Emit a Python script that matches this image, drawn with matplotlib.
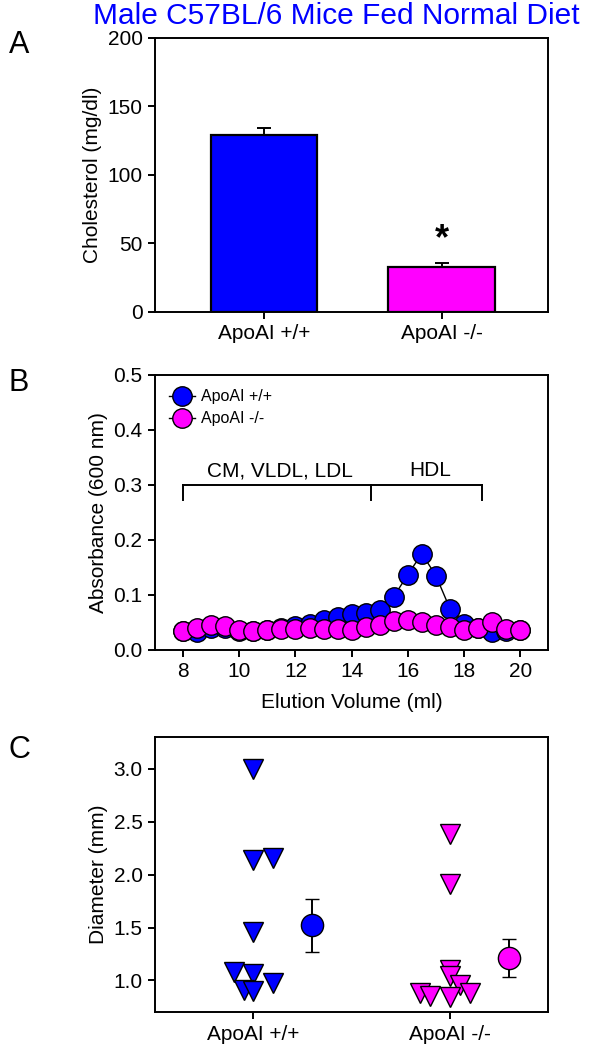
import numpy as np
import matplotlib
matplotlib.use("Agg")
import matplotlib.pyplot as plt

plt.rcParams["font.family"] = ["Liberation Sans", "DejaVu Sans"]

BLUE = "#0000FF"
MAGENTA = "#FF00FF"

# ---- A: plasma cholesterol ----
groups = ["ApoAI +/+", "ApoAI -/-"]
chol_mean = [129.3, 32.9]
chol_sem = [4.8, 3.0]

# ---- B: FPLC profile ----
elution = [8.0, 8.5, 9.0, 9.5, 10.0, 10.5, 11.0, 11.5, 12.0, 12.5, 13.0, 13.5, 14.0,
           14.5, 15.0, 15.5, 16.0, 16.5, 17.0, 17.5, 18.0, 18.5, 19.0, 19.5, 20.0]
abs_wt = [0.035, 0.032, 0.040, 0.040, 0.035, 0.035, 0.037, 0.040, 0.043, 0.048, 0.055, 0.059, 0.066,
          0.068, 0.072, 0.097, 0.137, 0.175, 0.135, 0.075, 0.048, 0.040, 0.032, 0.035, 0.036]
abs_wt_err = [0.003, 0.003, 0.003, 0.003, 0.003, 0.003, 0.003, 0.003, 0.003, 0.004, 0.004, 0.004, 0.005,
              0.005, 0.005, 0.006, 0.008, 0.008, 0.008, 0.007, 0.005, 0.004, 0.008, 0.003, 0.003]
abs_ko = [0.035, 0.040, 0.046, 0.044, 0.037, 0.035, 0.037, 0.038, 0.038, 0.040, 0.038, 0.038, 0.037,
          0.041, 0.046, 0.052, 0.054, 0.051, 0.045, 0.041, 0.037, 0.040, 0.051, 0.038, 0.037]
abs_ko_err = [0.003] * 25

# ---- C: diameter ----
diam_wt = [3.00, 2.14, 2.16, 1.46, 1.08, 1.06, 0.98, 0.91, 0.90]
diam_wt_x = [1.00, 1.00, 1.10, 1.00, 0.90, 1.00, 1.10, 0.95, 1.00]
diam_ko = [2.38, 1.91, 1.10, 1.04, 0.96, 0.88, 0.85, 0.84, 0.88]
diam_ko_x = [2.00, 2.00, 2.00, 2.00, 2.05, 1.85, 1.90, 2.00, 2.10]
diam_mean = [1.52, 1.21]
diam_sem = [0.25, 0.18]
mean_x = [1.3, 2.3]

FS = 15


def style_axes(ax):
    for s in ax.spines.values():
        s.set_linewidth(1.4)
    ax.tick_params(direction="out", length=5, width=1.4, labelsize=FS, top=False, right=False, pad=4)


fig = plt.figure(figsize=(5.94, 10.5), dpi=100)

fig.text(0.566, 0.998, "Male C57BL/6 Mice Fed Normal Diet", color=BLUE,
         fontsize=21.5, ha="center", va="top")

# ---- Panel A ----
axA = fig.add_axes([0.261, 0.703, 0.662, 0.261])
xA = np.arange(len(groups))
axA.bar(xA, chol_mean, width=0.6, color=[BLUE, MAGENTA], edgecolor="black", linewidth=1.6, zorder=2)
axA.errorbar(xA, chol_mean, yerr=[[0, 0], chol_sem], fmt="none", ecolor="black",
             elinewidth=1.4, capsize=5, capthick=1.4, zorder=3)
axA.text(1, 53, "*", fontsize=26, ha="center", va="center", fontweight="bold")
axA.set_xlim(-0.613, 1.60)
axA.set_ylim(0, 200)
axA.set_yticks([0, 50, 100, 150, 200])
axA.set_xticks(xA)
axA.set_xticklabels(groups)
axA.set_ylabel("Cholesterol (mg/dl)", fontsize=FS)
style_axes(axA)
fig.text(0.015, 0.957, "A", fontsize=22, ha="left", va="center")

# ---- Panel B ----
axB = fig.add_axes([0.261, 0.381, 0.662, 0.262])
axB.errorbar(elution, abs_wt, yerr=abs_wt_err, fmt="-o", color="black", mfc=BLUE, mec="black",
             ms=14, mew=1.0, lw=1.0, elinewidth=1.0, capsize=3, label="ApoAI +/+", zorder=2)
axB.errorbar(elution, abs_ko, yerr=abs_ko_err, fmt="-o", color="black", mfc=MAGENTA, mec="black",
             ms=14, mew=1.0, lw=1.0, elinewidth=1.0, capsize=3, label="ApoAI -/-", zorder=3)

# lipoprotein fraction brackets
br_left, br_mid, br_right, br_y = 8.0, 14.68, 18.64, 0.30
axB.plot([br_left, br_right], [br_y, br_y], color="black", lw=1.4)
for bx in [br_left, br_mid, br_right]:
    axB.plot([bx, bx], [br_y, br_y - 0.027], color="black", lw=1.4)
axB.text(11.45, br_y + 0.008, "CM, VLDL, LDL", fontsize=FS, ha="center", va="bottom")
axB.text(16.8, br_y + 0.008, "HDL", fontsize=FS, ha="center", va="bottom")

axB.set_xlim(7, 21)
axB.set_ylim(0, 0.5)
axB.set_xticks([8, 10, 12, 14, 16, 18, 20])
axB.set_yticks([0.0, 0.1, 0.2, 0.3, 0.4, 0.5])
axB.set_yticklabels(["0.0", "0.1", "0.2", "0.3", "0.4", "0.5"])
axB.set_xlabel("Elution Volume (ml)", fontsize=FS, labelpad=8)
axB.set_ylabel("Absorbance (600 nm)", fontsize=FS)
axB.legend(loc="upper left", frameon=False, fontsize=11.5, handlelength=1.6,
           borderaxespad=0.5, handletextpad=0.4, labelspacing=0.45)
style_axes(axB)
fig.text(0.015, 0.635, "B", fontsize=22, ha="left", va="center")

# ---- Panel C ----
axC = fig.add_axes([0.261, 0.036, 0.662, 0.262])
axC.plot(diam_wt_x, diam_wt, "v", ms=14, mfc=BLUE, mec="black", mew=1.0, ls="none", zorder=2)
axC.plot(diam_ko_x, diam_ko, "v", ms=14, mfc=MAGENTA, mec="black", mew=1.0, ls="none", zorder=2)
for mx, mv, me, col in zip(mean_x, diam_mean, diam_sem, [BLUE, MAGENTA]):
    axC.errorbar(mx, mv, yerr=me, fmt="o", ms=16, mfc=col, mec="black", mew=1.0,
                 ecolor="black", elinewidth=1.4, capsize=5, capthick=1.4, zorder=3)
axC.set_xlim(0.5, 2.5)
axC.set_ylim(0.7, 3.3)
axC.set_xticks([1, 2])
axC.set_xticklabels(groups)
axC.set_yticks([1.0, 1.5, 2.0, 2.5, 3.0])
axC.set_yticklabels(["1.0", "1.5", "2.0", "2.5", "3.0"])
axC.set_ylabel("Diameter (mm)", fontsize=FS)
style_axes(axC)
fig.text(0.015, 0.286, "C", fontsize=22, ha="left", va="center")

plt.savefig("out.png", dpi=100)
plt.close()
